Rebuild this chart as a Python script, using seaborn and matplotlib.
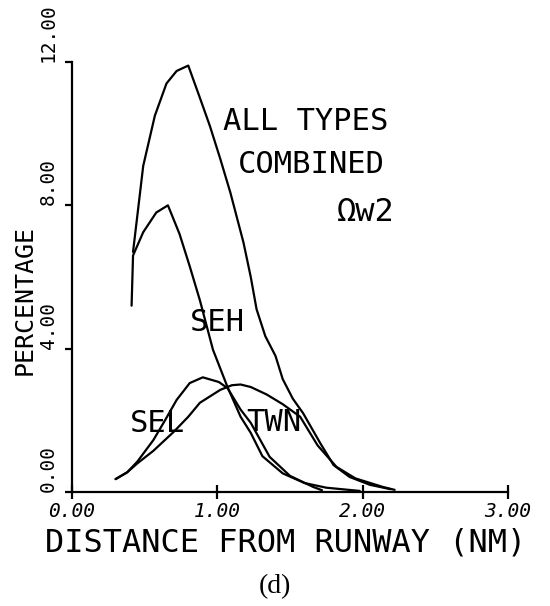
import matplotlib
matplotlib.use("Agg")
import matplotlib.pyplot as plt
import seaborn as sns
import pandas as pd

# ---- data ----
all_x = [0.42, 0.49, 0.57, 0.65, 0.72, 0.80, 0.88, 0.95, 1.02, 1.09, 1.18, 1.23, 1.27, 1.33,
         1.40, 1.45, 1.52, 1.59, 1.71, 1.80, 1.91, 2.05, 2.19]
all_y = [6.7, 9.1, 10.5, 11.4, 11.75, 11.9, 11.0, 10.2, 9.3, 8.35, 6.96, 6.0, 5.1, 4.35,
         3.8, 3.15, 2.6, 2.2, 1.35, 0.75, 0.42, 0.2, 0.08]

seh_x = [0.41, 0.42, 0.49, 0.58, 0.66, 0.74, 0.81, 0.88, 0.97, 1.07, 1.16, 1.23, 1.31,
         1.45, 1.60, 1.75, 1.98]
seh_y = [5.2, 6.6, 7.25, 7.8, 8.0, 7.2, 6.3, 5.35, 3.97, 2.93, 2.1, 1.65, 1.0,
         0.52, 0.25, 0.12, 0.03]

sel_x = [0.30, 0.38, 0.45, 0.56, 0.64, 0.72, 0.81, 0.90, 1.01, 1.07, 1.16, 1.23, 1.36,
         1.50, 1.66, 1.72]
sel_y = [0.36, 0.55, 0.85, 1.45, 2.0, 2.57, 3.04, 3.2, 3.07, 2.9, 2.3, 1.93, 0.98,
         0.45, 0.14, 0.05]

twn_x = [0.30, 0.38, 0.45, 0.56, 0.70, 0.80, 0.88, 1.02, 1.10, 1.16, 1.23, 1.34, 1.45,
         1.57, 1.69, 1.82, 1.95, 2.14, 2.22]
twn_y = [0.36, 0.55, 0.8, 1.15, 1.68, 2.1, 2.49, 2.85, 2.98, 3.0, 2.93, 2.72, 2.45,
         2.1, 1.3, 0.7, 0.38, 0.14, 0.06]

series_names = ["ALL TYPES COMBINED", "SEH", "SEL", "TWN"]
x_ticks = [0, 1, 2, 3]
x_tick_labels = ["0.00", "1.00", "2.00", "3.00"]
y_ticks = [0, 4, 8, 12]
y_tick_labels = ["0.00", "4.00", "8.00", "12.00"]

# ---- plot ----
sns.set_theme(style="ticks")
plt.rcParams["font.family"] = ["DejaVu Sans Mono", "DejaVu Sans"]

fig = plt.figure(figsize=(5.5, 6.06), dpi=100)
ax = fig.add_axes([72 / 550, 1 - 492 / 606, 436 / 550, 430 / 606])

for name, xs, ys in zip(series_names, [all_x, seh_x, sel_x, twn_x], [all_y, seh_y, sel_y, twn_y]):
    df = pd.DataFrame({"x": xs, "y": ys})
    sns.lineplot(data=df, x="x", y="y", ax=ax, color="black", linewidth=1.6,
                 sort=False, estimator=None)

ax.set_xlim(0, 3)
ax.set_ylim(0, 12)
sns.despine(ax=ax)
for s in ["left", "bottom"]:
    ax.spines[s].set_linewidth(1.6)
    ax.spines[s].set_color("black")

ax.set_xticks(x_ticks)
ax.set_xticklabels(x_tick_labels, fontsize=14, fontstyle="italic")
ax.set_yticks(y_ticks)
ax.set_yticklabels(y_tick_labels, fontsize=14, rotation=90, va="bottom")
ax.tick_params(axis="x", direction="inout", length=10, width=1.6, pad=2, colors="black")
ax.tick_params(axis="y", direction="out", length=5, width=1.6, pad=5, colors="black")

ax.set_xlabel("DISTANCE FROM RUNWAY (NM)", fontsize=23, color="black")
ax.xaxis.set_label_coords(0.49, -0.119)
ax.xaxis.label.set_va("center")
ax.set_ylabel("PERCENTAGE", fontsize=18, color="black")
ax.yaxis.set_label_coords(-0.108, 0.447)
ax.yaxis.label.set_va("center")

kw = dict(ha="center", va="center", color="black")
ax.text(1.61, 10.35, "ALL TYPES", fontsize=22, **kw)
ax.text(1.645, 9.15, "COMBINED", fontsize=22, **kw)
ax.text(2.02, 7.79, "Ωw2", fontsize=23, **kw)
ax.text(1.0, 4.72, "SEH", fontsize=22, **kw)
ax.text(0.585, 1.9, "SEL", fontsize=22, **kw)
ax.text(1.39, 1.95, "TWN", fontsize=22, **kw)

fig.text(275 / 550, 1 - 587 / 606, "(d)", fontsize=20, family="Liberation Serif",
         ha="center", va="center", color="black")

fig.savefig("out.png", dpi=100, facecolor="white")
